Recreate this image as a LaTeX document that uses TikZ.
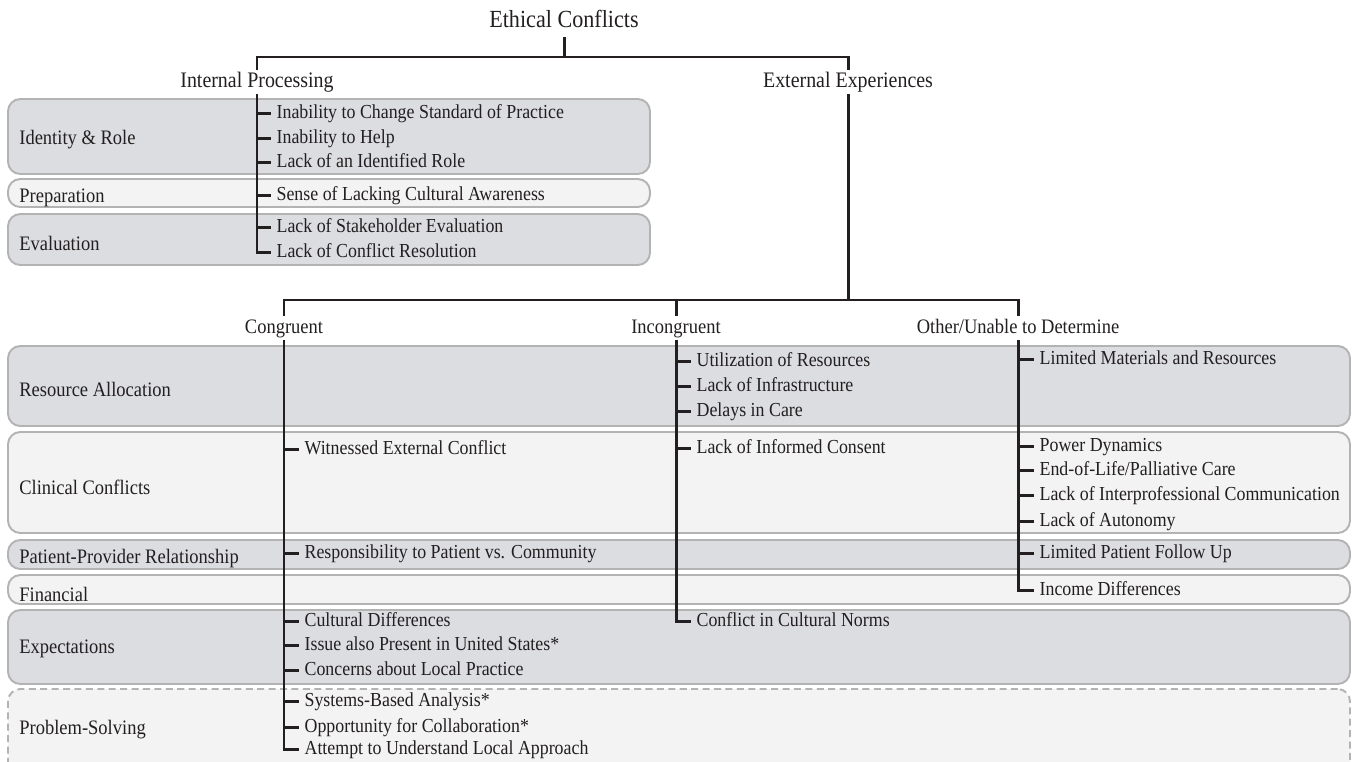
\documentclass[tikz,border=0pt]{standalone}
\usepackage{fontspec}
\setmainfont{Liberation Serif}[FakeStretch=0.9]
\usetikzlibrary{fit}
\definecolor{dkfill}{HTML}{DCDDE0}
\definecolor{ltfill}{HTML}{F2F3F2}
\definecolor{bord}{HTML}{B3B3B3}
\definecolor{ink}{HTML}{231F20}
\begin{document}
\begin{tikzpicture}[x=0.02cm,y=-0.02cm,
  box/.style={rectangle,rounded corners=7pt,draw=bord,line width=1.1pt,inner sep=0pt},
  dkbox/.style={box,fill=dkfill},
  ltbox/.style={box,fill=ltfill},
  boxlbl/.style={anchor=west,inner sep=0pt,yshift=-1.5pt,text=ink,font=\fontsize{11.7}{13}\selectfont},
  item/.style={anchor=west,inner xsep=3pt,inner ysep=0pt,yshift=-1.1pt,text=ink,text height=7.5pt,text depth=2pt,font=\fontsize{11.3}{13}\selectfont},
  branch/.style={inner xsep=2pt,inner ysep=1pt,yshift=-1.2pt,text=ink,text height=9pt,text depth=2.6pt,font=\fontsize{12.6}{14}\selectfont},
  subbranch/.style={branch,font=\fontsize{11.7}{14}\selectfont},
  titlelbl/.style={inner xsep=2pt,inner ysep=2pt,yshift=-1.5pt,text=ink,text height=10pt,text depth=3pt,font=\fontsize{14}{16}\selectfont},
  conn/.style={draw=ink,line width=1.7pt}]
\useasboundingbox (0,0) rectangle (1352,761);
\clip (0,0) rectangle (1352,761);

% ---- category boxes ----
\node[dkbox,fit={(8,99) (650,174)}] (bid) {};
\node[ltbox,fit={(8,179) (650,207)}] (bpr) {};
\node[dkbox,fit={(8,214) (650,265)}] (bev) {};
\node[dkbox,fit={(8,346) (1350,426)}] (bra) {};
\node[ltbox,fit={(8,432) (1350,533)}] (bcc) {};
\node[dkbox,fit={(8,540) (1350,569)}] (bpp) {};
\node[ltbox,fit={(8,575) (1350,604)}] (bfi) {};
\node[dkbox,fit={(8,610) (1350,684)}] (bex) {};
\node[ltbox,dashed,dash pattern=on 4pt off 2.5pt,fit={(8,689) (1350,790)}] (bps) {};

% ---- box labels ----
\node[boxlbl] (lid) at (19,137) {Identity \& Role};
\node[boxlbl] (lpr) at (19,195) {Preparation};
\node[boxlbl] (lev) at (19,241) {Evaluation};
\node[boxlbl] (lra) at (19,387) {Resource Allocation};
\node[boxlbl] (lcc) at (19,485) {Clinical Conflicts};
\node[boxlbl] (lpp) at (19,556) {Patient-Provider Relationship};
\node[boxlbl] (lfi) at (19,592) {Financial};
\node[boxlbl] (lex) at (19,646) {Expectations};
\node[boxlbl] (lps) at (19,727) {Problem-Solving};

% ---- hierarchy labels ----
\node[titlelbl] (ec) at (564,19) {Ethical Conflicts};
\node[branch] (ip) at (257,80) {Internal Processing};
\node[branch] (ee) at (848,80) {External Experiences};
\node[subbranch] (cg) at (284,326) {Congruent};
\node[subbranch] (ic) at (676,326) {Incongruent};
\node[subbranch] (ot) at (1018,326) {Other/Unable to Determine};

\coordinate (bt) at (564,57);
\coordinate (be) at (848,300);

% ---- items ----
\node[item] (i1) at (271,112) {Inability to Change Standard of Practice};
\node[item] (i2) at (271,137) {Inability to Help};
\node[item] (i3) at (271,161) {Lack of an Identified Role};
\node[item] (i4) at (271,194) {Sense of Lacking Cultural Awareness};
\node[item] (i5) at (271,226) {Lack of Stakeholder Evaluation};
\node[item] (i6) at (271,251) {Lack of Conflict Resolution};

\node[item] (c1) at (299,448) {Witnessed External Conflict};
\node[item] (c2) at (299,552) {Responsibility to Patient vs. Community};
\node[item] (c3) at (299,620) {Cultural Differences};
\node[item] (c4) at (299,644) {Issue also Present in United States*};
\node[item] (c5) at (299,669) {Concerns about Local Practice};
\node[item] (c6) at (299,700) {Systems-Based Analysis*};
\node[item] (c7) at (299,726) {Opportunity for Collaboration*};
\node[item] (c8) at (299,748) {Attempt to Understand Local Approach};

\node[item] (n1) at (691,360) {Utilization of Resources};
\node[item] (n2) at (691,385) {Lack of Infrastructure};
\node[item] (n3) at (691,410) {Delays in Care};
\node[item] (n4) at (691,447) {Lack of Informed Consent};
\node[item] (n5) at (691,620) {Conflict in Cultural Norms};

\node[item] (o1) at (1034,358) {Limited Materials and Resources};
\node[item] (o2) at (1034,445) {Power Dynamics};
\node[item] (o3) at (1034,469) {End-of-Life/Palliative Care};
\node[item] (o4) at (1034,494) {Lack of Interprofessional Communication};
\node[item] (o5) at (1034,520) {Lack of Autonomy};
\node[item] (o6) at (1034,552) {Limited Patient Follow Up};
\node[item] (o7) at (1034,589) {Income Differences};

% ---- connectors ----
\draw[conn] (ec.south) -- (bt);
\draw[conn] (ip.north) |- (bt) -| (ee.north);
\draw[conn] (ee.south) -- (be);
\draw[conn] (cg.north) |- (be) -| (ot.north);
\draw[conn] (ic.north) -- (ic.north |- be);

\draw[conn] (ip.south) |- (i6.west);
\foreach \n in {i1,i2,i3,i4,i5} \draw[conn] (ip.south |- \n.west) -- (\n.west);
\draw[conn] (cg.south) |- (c8.west);
\foreach \n in {c1,c2,c3,c4,c5,c6,c7} \draw[conn] (cg.south |- \n.west) -- (\n.west);
\draw[conn] (ic.south) |- (n5.west);
\foreach \n in {n1,n2,n3,n4} \draw[conn] (ic.south |- \n.west) -- (\n.west);
\draw[conn] (ot.south) |- (o7.west);
\foreach \n in {o1,o2,o3,o4,o5,o6} \draw[conn] (ot.south |- \n.west) -- (\n.west);
\end{tikzpicture}
\end{document}
